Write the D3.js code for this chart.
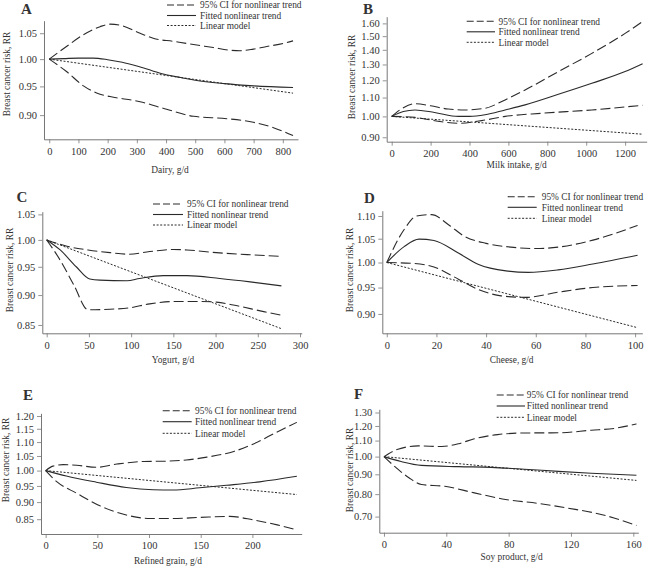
<!DOCTYPE html>
<html>
<head>
<meta charset="utf-8">
<script src="https://cdn.jsdelivr.net/npm/d3@7"></script>
<style>
  html, body { margin: 0; padding: 0; background: #fff; }
  svg { display: block; }
  text { font-family: "Liberation Serif", "Times New Roman", serif; fill: #333; }
</style>
</head>
<body>
<svg id="chart" width="650" height="567"></svg>
<script>
// ---------------- DATA ----------------
const panelLetters = ["A", "B", "C", "D", "E", "F"];
const xTitles = ["Dairy, g/d", "Milk intake, g/d", "Yogurt, g/d", "Cheese, g/d", "Refined grain, g/d", "Soy product, g/d"];
const yTitle = "Breast cancer risk, RR";
const legendLabels = ["95% CI for nonlinear trend", "Fitted nonlinear trend", "Linear model"];

const xTicksA = [0, 100, 200, 300, 400, 500, 600, 700, 800];
const xTicksB = [0, 200, 400, 600, 800, 1000, 1200];
const xTicksC = [0, 50, 100, 150, 200, 250, 300];
const xTicksD = [0, 20, 40, 60, 80, 100];
const xTicksE = [0, 50, 100, 150, 200];
const xTicksF = [0, 40, 80, 120, 160];

const yTicksA = [0.90, 0.95, 1.00, 1.05];
const yTicksB = [0.90, 1.00, 1.10, 1.20, 1.30, 1.40, 1.50, 1.60];
const yTicksC = [0.85, 0.90, 0.95, 1.00, 1.05];
const yTicksD = [0.90, 0.95, 1.00, 1.05, 1.10];
const yTicksE = [0.85, 0.90, 0.95, 1.00, 1.05, 1.10, 1.15, 1.20];
const yTicksF = [0.70, 0.80, 0.90, 1.00, 1.10, 1.20, 1.30];

// A: Dairy
const dairyUpper = [[0,1.000],[59,1.024],[117,1.047],[174,1.063],[208,1.068],[242,1.066],[311,1.050],[356,1.040],[425,1.034],[494,1.028],[562,1.022],[619,1.017],[654,1.016],[699,1.019],[745,1.024],[802,1.030],[835,1.035]];
const dairyFit = [[0,1.000],[50,1.001],[100,1.002],[150,1.002],[200,0.999],[250,0.994],[300,0.987],[350,0.979],[400,0.971],[450,0.966],[500,0.961],[600,0.955],[700,0.951],[835,0.948]];
const dairyLower = [[0,1.000],[59,0.977],[117,0.951],[174,0.936],[208,0.932],[311,0.923],[402,0.910],[494,0.898],[608,0.894],[699,0.888],[768,0.879],[835,0.866]];
const dairyLinear = [[0,1.000],[835,0.938]];

// B: Milk
const milkUpper = [[0,1.000],[60,1.045],[120,1.066],[200,1.055],[290,1.038],[377,1.033],[480,1.042],[583,1.087],[686,1.143],[857,1.254],[1029,1.375],[1200,1.521],[1290,1.615]];
const milkFit = [[0,1.000],[60,1.025],[120,1.033],[220,1.020],[343,1.000],[400,1.000],[480,1.008],[583,1.033],[686,1.060],[857,1.118],[1029,1.182],[1200,1.254],[1290,1.305]];
const milkLower = [[0,1.000],[120,0.995],[257,0.973],[343,0.966],[463,0.979],[583,1.000],[771,1.016],[1029,1.033],[1290,1.058]];
const milkLinear = [[0,1.000],[1290,0.914]];

// C: Yogurt
const yogurtUpper = [[0,1.000],[24,0.988],[49,0.981],[75,0.976],[97,0.973],[122,0.978],[150,0.982],[166,0.981],[201,0.976],[241,0.972],[278,0.969]];
const yogurtFit = [[0,1.000],[16,0.981],[35,0.950],[51,0.928],[63,0.926],[95,0.925],[110,0.929],[138,0.934],[166,0.934],[205,0.929],[241,0.923],[278,0.916]];
const yogurtLower = [[0,1.000],[16,0.962],[32,0.918],[49,0.875],[75,0.876],[97,0.878],[122,0.885],[150,0.889],[182,0.889],[201,0.888],[221,0.883],[257,0.872],[278,0.866]];
const yogurtLinear = [[0,1.000],[278,0.844]];

// D: Cheese
const cheeseUpper = [[0,1.000],[7,1.070],[12,1.100],[18,1.103],[25,1.080],[31,1.056],[40,1.040],[50,1.032],[60,1.029],[69,1.032],[83,1.047],[101,1.079]];
const cheeseFit = [[0,1.000],[7,1.033],[13,1.049],[19,1.046],[29,1.019],[37,0.996],[48,0.983],[57,0.980],[69,0.985],[83,0.997],[101,1.015]];
const cheeseLower = [[0,1.000],[11,0.998],[19,0.991],[29,0.966],[37,0.946],[46,0.934],[56,0.931],[69,0.941],[83,0.950],[101,0.954]];
const cheeseLinear = [[0,1.000],[101,0.875]];

// E: Refined grain
const grainUpper = [[0,1.000],[7,1.015],[17,1.020],[30,1.018],[49,1.011],[69,1.022],[95,1.031],[117,1.032],[136,1.036],[156,1.046],[182,1.066],[201,1.093],[224,1.138],[243,1.175]];
const grainFit = [[0,1.000],[20,0.982],[49,0.962],[78,0.945],[104,0.938],[123,0.937],[149,0.944],[175,0.952],[207,0.963],[243,0.981]];
const grainLower = [[0,1.000],[11,0.963],[30,0.927],[53,0.888],[78,0.862],[101,0.852],[123,0.852],[149,0.855],[178,0.858],[201,0.848],[224,0.834],[243,0.820]];
const grainLinear = [[0,1.000],[243,0.923]];

// F: Soy product
const soyUpper = [[0,1.000],[9,1.045],[22,1.066],[37,1.062],[48,1.080],[58,1.112],[73,1.140],[90,1.151],[112,1.152],[133,1.170],[148,1.183],[162,1.215]];
const soyFit = [[0,1.000],[11,0.971],[24,0.949],[48,0.942],[69,0.938],[90,0.928],[112,0.916],[133,0.906],[162,0.895]];
const soyLower = [[0,1.000],[7,0.942],[16,0.882],[24,0.847],[39,0.838],[58,0.806],[78,0.775],[99,0.757],[118,0.736],[140,0.708],[162,0.664]];
const soyLinear = [[0,1.000],[162,0.868]];

// ---------------- LAYOUT ----------------
const panels = [
  { letter: panelLetters[0], xTitle: xTitles[0], xTicks: xTicksA, yTicks: yTicksA,
    series: [dairyUpper, dairyLower, dairyFit, dairyLinear],
    left: 44, right: 298, top: 20.7, bottom: 139.3, xDomain: [-18, 852], yDomain: [0.86, 1.075],
    letterPos: [21, 13.5], legend: { x0: 167, x1: 196, tx: 200, rows: [5, 15.5, 25.5] },
    yTitlePos: [7, 74], xTitlePos: [170, 173] },
  { letter: panelLetters[1], xTitle: xTitles[1], xTicks: xTicksB, yTicks: yTicksB,
    series: [milkUpper, milkLower, milkFit, milkLinear],
    left: 386.7, right: 646.7, top: 16.7, bottom: 141.7, xDomain: [-25.7, 1311], yDomain: [0.88, 1.655],
    letterPos: [363, 13.5], legend: { x0: 466.7, x1: 495, tx: 498.5, rows: [21.3, 31.8, 42.3] },
    yTitlePos: [352, 77], xTitlePos: [516.7, 168] },
  { letter: panelLetters[2], xTitle: xTitles[2], xTicks: xTicksC, yTicks: yTicksC,
    series: [yogurtUpper, yogurtLower, yogurtFit, yogurtLinear],
    left: 42.3, right: 301.7, top: 211.7, bottom: 333.3, xDomain: [-5.2, 302], yDomain: [0.8366, 1.0554],
    letterPos: [16.5, 202], legend: { x0: 153, x1: 183, tx: 187, rows: [204, 214.5, 225] },
    yTitlePos: [10, 270], xTitlePos: [173, 363] },
  { letter: panelLetters[3], xTitle: xTitles[3], xTicks: xTicksD, yTicks: yTicksD,
    series: [cheeseUpper, cheeseLower, cheeseFit, cheeseLinear],
    left: 382.3, right: 642.3, top: 210.7, bottom: 333.3, xDomain: [-1.8, 102.9], yDomain: [0.865, 1.112],
    letterPos: [364, 203], legend: { x0: 507.7, x1: 536.7, tx: 541.7, rows: [196.7, 207.3, 218.3] },
    yTitlePos: [350, 270], xTitlePos: [511.7, 363] },
  { letter: panelLetters[4], xTitle: xTitles[4], xTicks: xTicksE, yTicks: yTicksE,
    series: [grainUpper, grainLower, grainFit, grainLinear],
    left: 41, right: 301.7, top: 413.3, bottom: 534, xDomain: [-4.5, 247.7], yDomain: [0.809, 1.211],
    letterPos: [23, 399.5], legend: { x0: 162.7, x1: 191.7, tx: 195, rows: [410.7, 421.7, 433.3] },
    yTitlePos: [6, 460], xTitlePos: [168, 564] },
  { letter: panelLetters[5], xTitle: xTitles[5], xTicks: xTicksF, yTicks: yTicksF,
    series: [soyUpper, soyLower, soyFit, soyLinear],
    left: 379.3, right: 638.3, top: 409.3, bottom: 532.7, xDomain: [-3, 163.2], yDomain: [0.636, 1.325],
    letterPos: [354, 398.5], legend: { x0: 496.7, x1: 525, tx: 526.7, rows: [395, 406, 417.3] },
    yTitlePos: [350, 470], xTitlePos: [511.7, 560] }
];

// styles: upper CI, lower CI, fitted, linear
const styles = [
  { dash: "10,4", width: 1.1 },
  { dash: "10,4", width: 1.1 },
  { dash: null, width: 1.1 },
  { dash: "2,1.6", width: 1.0 }
];
const legendStyles = [{ dash: "7,3", width: 1.1 }, styles[2], styles[3]];
const lineColor = "#2a2a2a";
const axisColor = "#777";
const tickFont = 10.5;
const textFont = 9.4;

const svg = d3.select("#chart");

panels.forEach(p => {
  const g = svg.append("g");
  const x = d3.scaleLinear().domain(p.xDomain).range([p.left, p.right]);
  const y = d3.scaleLog().domain(p.yDomain).range([p.bottom, p.top]);

  const xa = g.append("g").attr("transform", `translate(0,${p.bottom})`)
    .call(d3.axisBottom(x).tickValues(p.xTicks).tickFormat(d3.format("d")).tickSize(4).tickSizeOuter(0).tickPadding(4));
  const ya = g.append("g").attr("transform", `translate(${p.left},0)`)
    .call(d3.axisLeft(y).tickValues(p.yTicks).tickFormat(d3.format(".2f")).tickSize(4).tickSizeOuter(0).tickPadding(3));
  [xa, ya].forEach(a => {
    a.selectAll("path.domain").attr("stroke", axisColor).attr("stroke-width", 1);
    a.selectAll(".tick line").attr("stroke", axisColor).attr("stroke-width", 0.8);
    a.selectAll(".tick text").attr("fill", "#444").style("font-family", '"Liberation Serif", serif').style("font-size", tickFont + "px");
  });

  const line = d3.line().x(d => x(d[0])).y(d => y(d[1])).curve(d3.curveMonotoneX);
  p.series.forEach((s, i) => {
    g.append("path").datum(s)
      .attr("d", line)
      .attr("fill", "none")
      .attr("stroke", lineColor)
      .attr("stroke-width", styles[i].width)
      .attr("stroke-dasharray", styles[i].dash);
  });

  g.append("text").attr("x", p.letterPos[0]).attr("y", p.letterPos[1])
    .attr("font-weight", "bold").attr("font-size", 15).attr("fill", "#111").text(p.letter);

  g.append("text").attr("x", p.xTitlePos[0]).attr("y", p.xTitlePos[1])
    .attr("text-anchor", "middle").attr("font-size", textFont).attr("fill", "#444").text(p.xTitle);
  g.append("text")
    .attr("transform", `translate(${p.yTitlePos[0]},${p.yTitlePos[1]}) rotate(-90)`)
    .attr("text-anchor", "middle").attr("dy", "0.35em")
    .attr("font-size", textFont).attr("fill", "#444").text(yTitle);

  legendLabels.forEach((lab, i) => {
    const cy = p.legend.rows[i];
    g.append("line").attr("x1", p.legend.x0).attr("x2", p.legend.x1)
      .attr("y1", cy).attr("y2", cy)
      .attr("stroke", lineColor).attr("stroke-width", legendStyles[i].width)
      .attr("stroke-dasharray", legendStyles[i].dash);
    g.append("text").attr("x", p.legend.tx).attr("y", cy).attr("dy", "0.35em")
      .attr("font-size", textFont).attr("fill", "#444").text(lab);
  });
});
</script>
</body>
</html>
